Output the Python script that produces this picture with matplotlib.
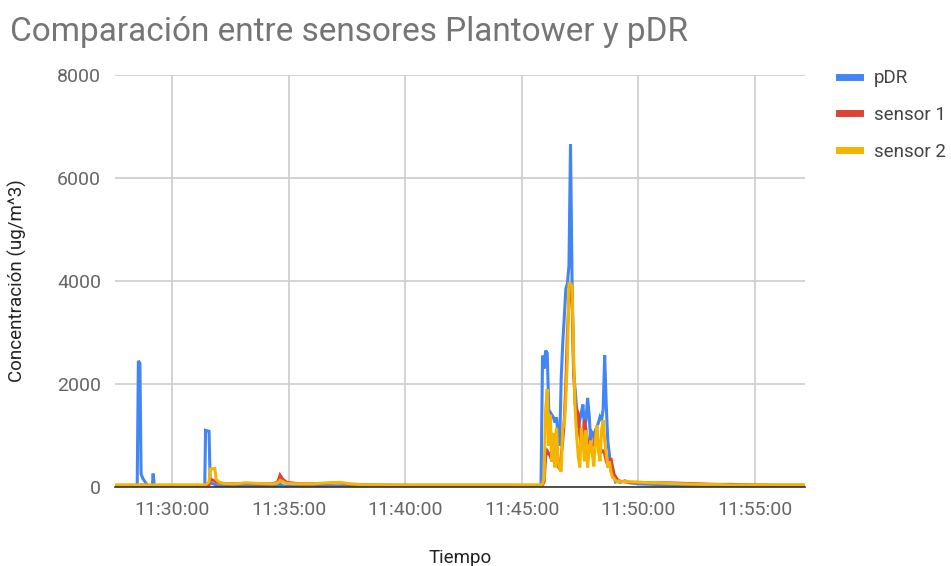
import matplotlib
matplotlib.use("Agg")
import matplotlib.pyplot as plt
import matplotlib.dates as mdates
import pandas as pd

# shared sample times (hh:mm:ss)
tiempo = [
    "11:27:33", "11:28:30", "11:28:33", "11:28:37", "11:28:40", "11:28:45", "11:28:52",
    "11:28:58", "11:29:09", "11:29:11", "11:29:14", "11:30:30", "11:31:24", "11:31:26",
    "11:31:35", "11:31:38", "11:31:50", "11:31:53", "11:32:00", "11:32:10", "11:32:40",
    "11:33:10", "11:33:40", "11:34:20", "11:34:32", "11:34:38", "11:34:45", "11:34:55",
    "11:35:30", "11:36:00", "11:36:40", "11:37:10", "11:37:40", "11:38:20", "11:40:00",
    "11:42:00", "11:44:00",
    "11:45:50", "11:45:54", "11:45:58", "11:46:02", "11:46:06", "11:46:10", "11:46:14",
    "11:46:18", "11:46:22", "11:46:26", "11:46:30", "11:46:34", "11:46:38", "11:46:42",
    "11:46:46", "11:46:50", "11:46:54", "11:46:58", "11:47:02", "11:47:06", "11:47:10",
    "11:47:14", "11:47:18", "11:47:22", "11:47:26", "11:47:30", "11:47:34", "11:47:38",
    "11:47:42", "11:47:46", "11:47:50", "11:47:54", "11:47:58", "11:48:02", "11:48:06",
    "11:48:10", "11:48:14", "11:48:18", "11:48:22", "11:48:26", "11:48:30", "11:48:34",
    "11:48:38", "11:48:42", "11:48:46", "11:48:50", "11:48:54", "11:48:58", "11:49:02",
    "11:49:06", "11:49:10", "11:49:14",
    "11:49:26", "11:49:39", "11:50:05", "11:50:40", "11:51:20", "11:52:00", "11:52:40",
    "11:53:20", "11:54:00", "11:55:00", "11:56:00", "11:57:10",
]

pdr = [
    20, 20, 2450, 2400, 250, 160, 80,
    20, 20, 260, 20, 15, 15, 1100,
    1080, 80, 50, 30, 20, 15, 15,
    15, 15, 15, 20, 60, 20, 15,
    15, 15, 15, 15, 15, 10, 10,
    10, 10,
    20, 2550, 2300, 2650, 2600, 1500, 1450,
    1400, 1350, 1250, 1350, 1000, 800, 2100,
    2800, 3300, 3850, 3950, 4300, 6650, 4000,
    2200, 1880, 1500, 1150, 1300, 1450, 1600,
    1150, 1300, 1730, 1400, 900, 1050, 1000,
    1100, 1170, 1250, 1360, 1300, 1500, 2560,
    1600, 900, 640, 330, 260, 200, 100,
    120, 100, 90,
    120, 80, 60, 50, 40, 30, 30,
    25, 20, 20, 20, 20,
]

sensor1 = [
    30, 30, 30, 30, 40, 40, 30,
    30, 30, 30, 30, 30, 30, 30,
    40, 150, 120, 100, 80, 70, 60,
    70, 60, 60, 100, 230, 150, 90,
    60, 60, 70, 80, 50, 40, 35,
    35, 35,
    30, 40, 100, 600, 700, 650, 600,
    500, 700, 400, 500, 400, 350, 600,
    900, 1300, 2000, 3000, 3600, 3900, 3700,
    2300, 1600, 1500, 1430, 1000, 830, 1000,
    1300, 1100, 900, 850, 800, 800, 850,
    1000, 1100, 800, 640, 700, 700, 650,
    500, 430, 500, 560, 400, 250, 200,
    150, 130, 110,
    100, 90, 90, 80, 80, 70, 60,
    50, 50, 40, 35, 35,
]

sensor2 = [
    40, 40, 40, 40, 40, 40, 40,
    40, 40, 40, 40, 40, 40, 40,
    100, 350, 360, 150, 100, 70, 60,
    80, 70, 60, 80, 130, 100, 70,
    60, 60, 80, 90, 60, 40, 35,
    35, 35,
    40, 60, 200, 1500, 1900, 800, 1400,
    500, 1050, 380, 1150, 500, 350, 300,
    1150, 1200, 1750, 2500, 3950, 3950, 3900,
    2500, 1500, 970, 600, 380, 1150, 900,
    500, 1100, 380, 700, 900, 650, 400,
    900, 1200, 700, 500, 1100, 1300, 900,
    640, 380, 500, 300, 190, 170, 130,
    100, 120, 100,
    110, 100, 90, 80, 70, 60, 50,
    50, 40, 40, 40, 40,
]

series = [("pDR", pdr, "#4285F4"), ("sensor 1", sensor1, "#DB4437"), ("sensor 2", sensor2, "#F4B400")]
yticks = [0, 2000, 4000, 6000, 8000]
xticks = ["11:30:00", "11:35:00", "11:40:00", "11:45:00", "11:50:00", "11:55:00"]

plt.rcParams["font.family"] = ["Roboto", "DejaVu Sans"]

t = pd.to_datetime(["2019-01-01 " + s for s in tiempo])
fig = plt.figure(figsize=(9.51, 5.66), dpi=100)
ax = fig.add_axes([0.121, 0.1396, 0.7255, 0.7279])

for name, vals, col in series:
    ax.plot(t, vals, color=col, lw=2.2, label=name, solid_joinstyle="miter")

ax.set_xlim(pd.Timestamp("2019-01-01 11:27:33"), pd.Timestamp("2019-01-01 11:57:10"))
ax.set_ylim(0, 8000)
ax.set_yticks(yticks)
ax.set_xticks(pd.to_datetime(["2019-01-01 " + s for s in xticks]))
ax.xaxis.set_major_formatter(mdates.DateFormatter("%H:%M:%S"))
ax.grid(True, color="#cccccc", lw=1.2)
ax.set_axisbelow(True)
for sp in ["top", "right", "left"]:
    ax.spines[sp].set_visible(False)
ax.spines["bottom"].set_color("#333333")
ax.spines["bottom"].set_linewidth(1.2)
ax.tick_params(length=0, labelsize=14, colors="#666666")
ax.tick_params(axis="x", pad=10)
ax.tick_params(axis="y", pad=10)
ax.set_ylabel("Concentración (ug/m^3)", fontsize=13.5, color="#222222", labelpad=22)
ax.set_xlabel("Tiempo", fontsize=13.5, color="#222222", labelpad=22)

fig.text(0.011, 0.944, "Comparación entre sensores Plantower y pDR", fontsize=24,
         color="#757575", va="center")

leg = ax.legend(loc="upper left", bbox_to_anchor=(1.025, 1.055), frameon=False,
                fontsize=13.5, handlelength=1.1, handletextpad=0.75, labelspacing=1.0,
                labelcolor="#444444")
for h in leg.get_lines():
    h.set_linewidth(5)

fig.savefig("out.png", dpi=100)
